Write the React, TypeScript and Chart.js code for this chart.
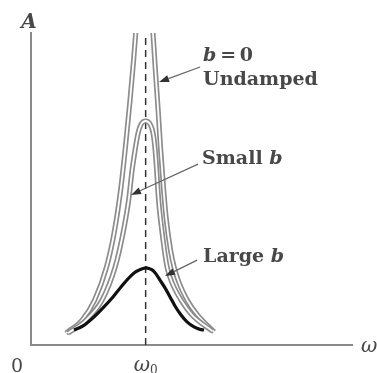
import React, { useEffect, useRef } from 'react';
import { Chart, registerables } from 'chart.js';

Chart.register(...registerables);

// ω / ω0 values and amplitudes (arbitrary 0..100 scale)
const undampedOmega = [0.306, 0.446, 0.555, 0.659, 0.725, 0.782, 0.830, 0.864, 0.895, 0.912, 0.925, 1.0, 1.056, 1.065, 1.091, 1.109, 1.131, 1.157, 1.178, 1.217, 1.248, 1.292, 1.362, 1.453, 1.597];
const undampedAmp = [3.8, 8.0, 14.4, 25.0, 35.9, 49.7, 65.7, 78.5, 91.3, 99.4, 105.8, 140, 105.8, 99.4, 84.9, 75.3, 62.5, 49.7, 41.0, 30.4, 25.0, 19.9, 14.4, 9.6, 4.2];

const smallOmega = [0.324, 0.481, 0.620, 0.734, 0.803, 0.852, 0.882, 0.908, 0.934, 0.961, 1.0, 1.039, 1.065, 1.083, 1.096, 1.113, 1.144, 1.187, 1.231, 1.309, 1.405, 1.580];
const smallAmp = [3.8, 8.0, 14.4, 25.0, 35.9, 46.5, 56.1, 62.5, 67.9, 70.8, 71.8, 70.8, 67.9, 62.5, 56.1, 46.5, 35.9, 25.0, 19.9, 14.4, 9.6, 4.5];

const largeOmega = [0.375, 0.454, 0.541, 0.628, 0.715, 0.785, 0.846, 0.899, 0.942, 0.977, 1.003, 1.030, 1.060, 1.090, 1.125, 1.169, 1.213, 1.256, 1.309, 1.361, 1.422, 1.474, 1.509];
const largeAmp = [4.8, 6.1, 8.7, 11.9, 15.4, 18.6, 21.2, 23.1, 24.0, 24.5, 24.7, 24.5, 24.0, 22.8, 20.8, 18.3, 15.4, 12.5, 9.6, 7.4, 5.8, 5.0, 4.8];

const resonanceOmega = [1.0, 1.0];
const resonanceAmp = [0, 100];

// annotation texts (text, italic)
type Part = [string, boolean];
const noteTexts: Part[][] = [
  [['b', true], ['\u2009=\u20090', false]],
  [['Undamped', false]],
  [['Small ', false], ['b', true]],
  [['Large ', false], ['b', true]],
];
const noteAnchors: number[][] = [[1.501, 91.0], [1.501, 83.3], [1.492, 58.0], [1.501, 26.6]];
const arrowFrom: number[][] = [[1.475, 89.1], [1.457, 58.0], [1.449, 27.2]];
const arrowTo: number[][] = [[1.117, 84.3], [0.873, 48.1], [1.169, 22.1]];

const FONT = '"DejaVu Serif", "Liberation Serif", serif';

const toPts = (xs: number[], ys: number[]) => xs.map((x, i) => ({ x, y: ys[i] }));

function drawParts(ctx: CanvasRenderingContext2D, parts: Part[], x: number, y: number, size: number, align: 'left' | 'center', weight = 'bold') {
  ctx.textBaseline = 'alphabetic';
  ctx.textAlign = 'left';
  let total = 0;
  parts.forEach(([t, it]) => {
    ctx.font = `${it ? 'italic ' : ''}${weight} ${size}px ${FONT}`;
    total += ctx.measureText(t).width;
  });
  let cx = align === 'center' ? x - total / 2 : x;
  parts.forEach(([t, it]) => {
    ctx.font = `${it ? 'italic ' : ''}${weight} ${size}px ${FONT}`;
    ctx.fillText(t, cx, y);
    cx += ctx.measureText(t).width;
  });
}

const notesPlugin = {
  id: 'notes',
  afterDatasetsDraw(chart: any) {
    const ctx: CanvasRenderingContext2D = chart.ctx;
    const xs = chart.scales.x;
    const ys = chart.scales.y;
    const px = (v: number) => xs.getPixelForValue(v);
    const py = (v: number) => ys.getPixelForValue(v);
    ctx.save();
    // arrows
    ctx.strokeStyle = '#666';
    ctx.fillStyle = '#333';
    ctx.lineWidth = 1.3;
    arrowFrom.forEach((f, i) => {
      const t = arrowTo[i];
      const x1 = px(f[0]), y1 = py(f[1]), x2 = px(t[0]), y2 = py(t[1]);
      const ang = Math.atan2(y2 - y1, x2 - x1);
      const len = 10, hw = 3.6;
      const bx = x2 - len * Math.cos(ang), by = y2 - len * Math.sin(ang);
      ctx.beginPath();
      ctx.moveTo(x1, y1);
      ctx.lineTo(bx, by);
      ctx.stroke();
      ctx.beginPath();
      ctx.moveTo(x2, y2);
      ctx.lineTo(bx + hw * Math.sin(ang), by - hw * Math.cos(ang));
      ctx.lineTo(bx - hw * Math.sin(ang), by + hw * Math.cos(ang));
      ctx.closePath();
      ctx.fill();
    });
    // notes
    ctx.fillStyle = '#484848';
    noteTexts.forEach((parts, i) => {
      drawParts(ctx, parts, px(noteAnchors[i][0]), py(noteAnchors[i][1]), 19, 'left');
    });
    // axis labels
    drawParts(ctx, [['A', true]], px(-0.017), py(101.6), 20, 'center');
    drawParts(ctx, [['0', false]], px(-0.122), py(-8.6), 19, 'center', 'normal');
    drawParts(ctx, [['ω', true]], px(2.95), py(-2.3), 20, 'center', 'normal');
    // ω0 tick label
    ctx.font = `italic 20px ${FONT}`;
    const wW = ctx.measureText('ω').width;
    ctx.font = `12px ${FONT}`;
    const sW = ctx.measureText('0').width;
    const cx = px(1) - (wW + sW) / 2;
    const by = py(-8.3);
    ctx.font = `italic 20px ${FONT}`;
    ctx.fillText('ω', cx, by);
    ctx.font = `12px ${FONT}`;
    ctx.fillText('0', cx + wW, by + 3);
    ctx.restore();
  },
};

export default function App() {
  const ref = useRef<HTMLCanvasElement>(null);
  useEffect(() => {
    const tube = { pointRadius: 0, borderJoinStyle: 'round' as const, cubicInterpolationMode: 'monotone' as const, fill: false };
    const chart = new Chart(ref.current!, {
      type: 'line',
      data: {
        datasets: [
          { ...tube, data: toPts(largeOmega, largeAmp), borderColor: '#111', borderWidth: 3.2, order: 1 },
          { ...tube, data: toPts(smallOmega, smallAmp), borderColor: '#fff', borderWidth: 1.8, order: 2 },
          { ...tube, data: toPts(smallOmega, smallAmp), borderColor: '#8c8c8c', borderWidth: 5.2, order: 3 },
          { ...tube, data: toPts(undampedOmega, undampedAmp), borderColor: '#fff', borderWidth: 1.8, order: 4, clip: 0 },
          { ...tube, data: toPts(undampedOmega, undampedAmp), borderColor: '#8c8c8c', borderWidth: 5.2, order: 5, clip: 0 },
          { pointRadius: 0, data: toPts(resonanceOmega, resonanceAmp), borderColor: '#333', borderWidth: 1.5, borderDash: [7, 5], order: 6, fill: false },
        ],
      },
      options: {
        animation: false,
        responsive: false,
        events: [],
        layout: { padding: { left: 31, right: 25, top: 33, bottom: 28 } },
        plugins: { legend: { display: false }, tooltip: { enabled: false }, title: { display: false } },
        scales: {
          x: {
            type: 'linear', min: 0, max: 2.8,
            grid: { display: false, drawTicks: false },
            ticks: { display: false },
            border: { display: true, color: '#8a8a8a', width: 2 },
          },
          y: {
            type: 'linear', min: 0, max: 100,
            grid: { display: false, drawTicks: false },
            ticks: { display: false },
            border: { display: true, color: '#8a8a8a', width: 2 },
          },
        },
      },
      plugins: [notesPlugin],
    });
    return () => chart.destroy();
  }, []);
  return (
    <div style={{ position: 'absolute', left: 0, top: 0, width: 377, height: 373, background: '#fff' }}>
      <canvas ref={ref} width={377} height={373} style={{ display: 'block' }} />
    </div>
  );
}
